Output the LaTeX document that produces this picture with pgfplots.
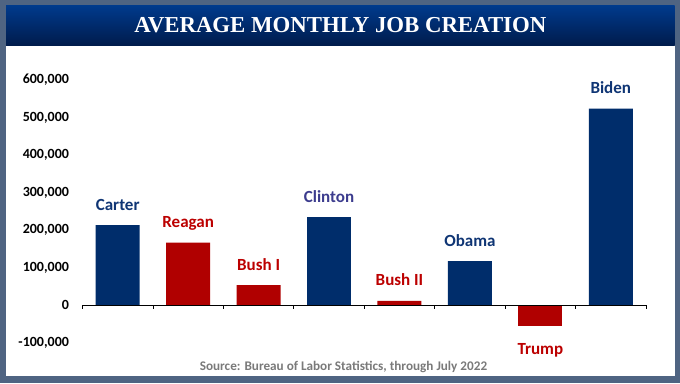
\documentclass[border=0pt]{standalone}
\usepackage{pgfplots}
\pgfplotsset{compat=1.18}
\usepackage{fontspec}
\setmainfont{Carlito}
\newfontfamily\titlefont{Liberation Serif}
\definecolor{frame}{HTML}{4F6482}
\definecolor{bandtop}{HTML}{003A8C}
\definecolor{bandbot}{HTML}{001B4B}
\definecolor{barblue}{HTML}{002D6B}
\definecolor{barred}{HTML}{B00000}
\definecolor{lblblue}{HTML}{0F3574}
\definecolor{lblclinton}{HTML}{3C3C8E}
\definecolor{lblred}{HTML}{BC0000}
\definecolor{srcgray}{HTML}{7A7A7A}
\begin{document}
\begin{tikzpicture}[x=1pt,y=1pt]
\fill[frame] (0,0) rectangle (680,383);
\fill[white] (6,6.7) rectangle (674.7,337.3);
\shade[top color=bandtop, bottom color=bandbot] (6,337.3) rectangle (674.7,377.3);
\node[text=white, font=\titlefont\bfseries\fontsize{22.8}{24}\selectfont] at (340.3,357.5) {AVERAGE MONTHLY JOB CREATION};
\node[anchor=base, text=srcgray, font=\bfseries\fontsize{13.2}{15}\selectfont] at (343.5,12.5) {Source: Bureau of Labor Statistics, through July 2022};
\begin{axis}[
  at={(82.5pt,40pt)}, anchor=south west,
  scale only axis, width=563.5pt, height=263pt,
  xmin=-0.5, xmax=7.5, ymin=-100000, ymax=600000,
  axis line style={draw=none},
  xtick=\empty,
  ytick={-100000,0,100000,200000,300000,400000,500000,600000},
  yticklabels={{-100,000},{0},{100,000},{200,000},{300,000},{400,000},{500,000},{600,000}},
  major tick length=0pt,
  scaled y ticks=false,
  yticklabel style={font=\bfseries\fontsize{14}{16}\selectfont, xshift=-10pt},
  ybar, bar width=44pt, bar shift=0pt,
  clip=false,
  nodes near coords,
  point meta=explicit symbolic,
  every node near coord/.append style={font=\bfseries\fontsize{17}{19}\selectfont, anchor=base, yshift=15pt, inner sep=0pt},
]
\addplot[fill=barblue, draw=none, every node near coord/.append style={text=lblblue}] coordinates {(0,214000) [Carter] (5,118000) [Obama] (7,524000) [Biden]};
\addplot[fill=barblue, draw=none, every node near coord/.append style={text=lblclinton}] coordinates {(3,235000) [Clinton]};
\addplot[fill=barred, draw=none, every node near coord/.append style={text=lblred}] coordinates {(1,167000) [Reagan] (2,54000) [Bush I] (4,12000) [Bush II]};
\addplot[fill=barred, draw=none, every node near coord/.append style={text=lblred, anchor=base, yshift=-43pt}] coordinates {(6,-55000) [Trump]};
\draw[black, line width=1pt] (axis cs:-0.5,0) -- (axis cs:7.5,0);
\pgfplotsinvokeforeach{-0.5,0.5,1.5,2.5,3.5,4.5,5.5,6.5,7.5}{
  \draw[black, line width=0.8pt] (axis cs:#1,0) -- ++(0pt,-4pt);
}
\end{axis}
\pgfresetboundingbox
\path (0,0) rectangle (680,383);
\end{tikzpicture}
\end{document}
